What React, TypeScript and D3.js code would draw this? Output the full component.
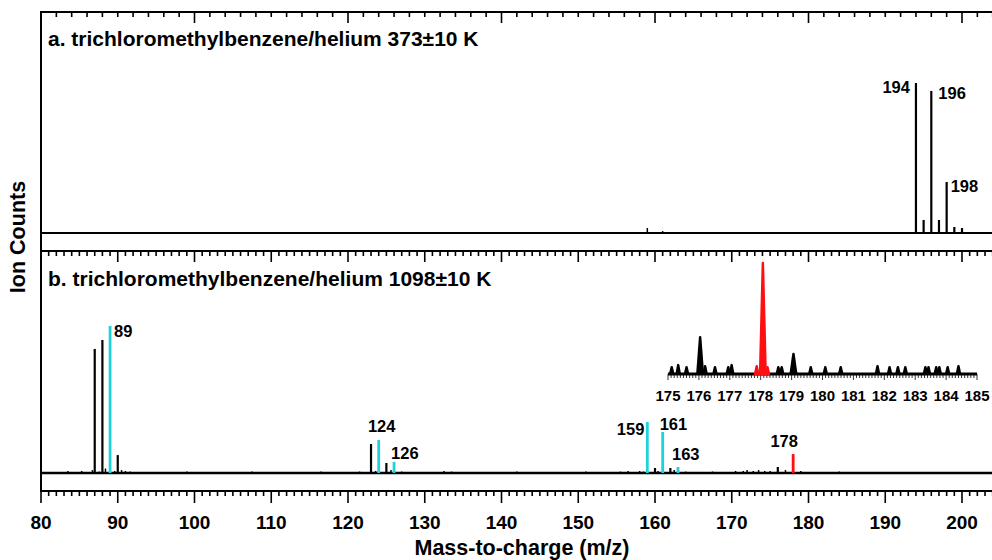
import * as d3 from 'd3';
import React from 'react';

// panel a (373 K): main isotope peaks and small baseline bumps, [m/z, counts]
const topPeaks: [number, number][] = [
  [194, 1000], [195, 87], [196, 947], [197, 87], [198, 340], [199, 40], [200, 33],
];
const topNoise: [number, number][] = [
  [112, 4], [122, 6], [159, 33], [161, 13], [162, 6], [163, 5], [175, 4], [192, 4], [201, 5],
];
const topLabels = [194, 196, 198];

// panel b (1098 K)
const bottomBlack: [number, number][] = [
  [87, 844], [88, 905], [90, 122], [123, 197], [125, 68], [160, 34], [162, 34], [176, 41],
];
const bottomCyan: [number, number][] = [
  [89, 1000], [124, 224], [126, 75], [159, 347], [161, 279], [163, 41],
];
const bottomRed: [number, number][] = [[178, 129]];
const bottomNoise: [number, number][] = [
  [83.5, 14], [84.4, 7], [85.3, 14], [86.2, 7], [86.7, 20], [87.6, 10], [88.4, 30], [89.6, 14],
  [90.5, 20], [91.0, 14], [91.6, 10], [92.4, 7], [94.0, 7], [96.5, 7], [99.0, 10], [101.5, 7],
  [104.0, 7], [107.5, 10], [110.0, 7], [113.0, 7], [116.5, 10], [118.0, 7], [120.0, 7], [121.5, 10],
  [123.6, 14], [125.6, 20], [127.0, 10], [128.5, 7], [130.0, 7], [132.5, 14], [133.5, 10], [136.0, 7],
  [139.0, 7], [142.0, 10], [145.0, 7], [148.0, 7], [151.0, 10], [153.5, 7], [155.5, 10], [156.5, 14],
  [158.0, 14], [158.5, 10], [160.4, 14], [162.5, 20], [164.0, 10], [166.0, 7], [167.5, 10], [169.0, 7],
  [170.5, 14], [171.5, 14], [172.0, 20], [172.8, 14], [173.5, 20], [174.3, 14], [175.0, 14], [177.0, 20],
  [179.0, 14], [180.5, 7], [182.0, 7], [184.0, 10], [186.5, 7], [189.0, 7], [192.0, 7], [195.0, 7],
  [198.0, 7], [201.0, 7],
];
const bottomLabels = [89, 124, 126, 159, 161, 163, 178];

// inset (175-185), relative counts
const insetBlack: [number, number][] = [
  [175.12, 6], [175.33, 8], [175.6, 6], [176.04, 33], [176.2, 7], [176.52, 6], [176.95, 6], [177.06, 8],
  [178.57, 6], [178.68, 6], [179.06, 18], [179.62, 6], [180.09, 6], [180.59, 6], [181.78, 7], [182.17, 6],
  [182.44, 6], [182.68, 6], [183.33, 6], [183.43, 6], [183.68, 6], [183.78, 6], [184.05, 6], [184.4, 7],
];
const insetRed: [number, number][] = [[177.87, 7], [178.07, 100], [178.22, 6]];
const insetTicks = d3.range(175, 185.01, 1);

const CYAN = '#1fd2da';
const RED = '#ff1010';
const FONT = '"Liberation Sans", Arial, sans-serif';

// label placement relative to the peak top (styling only)
const labelPos: Record<number, { dx: number; dy: number; anchor: string }> = {
  194: { dx: -6, dy: 10, anchor: 'end' },
  196: { dx: 7, dy: 8, anchor: 'start' },
  198: { dx: 4, dy: 10, anchor: 'start' },
  89: { dx: 4, dy: 11, anchor: 'start' },
  124: { dx: 3, dy: -8, anchor: 'middle' },
  126: { dx: -3, dy: -3, anchor: 'start' },
  159: { dx: -3, dy: 13, anchor: 'end' },
  161: { dx: -3, dy: -2, anchor: 'start' },
  163: { dx: -6, dy: -7, anchor: 'start' },
  178: { dx: -9, dy: -7, anchor: 'middle' },
};

const App = () => {
  const x = d3.scaleLinear().domain([80, 200]).range([41, 962]);
  const right = x(206);
  const yTop = d3.scaleLinear().domain([0, 1000]).range([233, 83]);
  const yBot = d3.scaleLinear().domain([0, 1000]).range([473, 326]);
  const xi = d3.scaleLinear().domain([175, 185]).range([668, 977]);
  const yi = d3.scaleLinear().domain([0, 100]).range([374, 263]);

  const peakLine = d3.line<[number, number]>().x(d => xi(d[0])).y(d => yi(d[1]));
  const peakShape = (c: number, h: number) => {
    const w = h > 15 ? 0.09 : 0.05;
    return peakLine([[c - w, 0], [c, h], [c + w, 0]]) as string;
  };

  const topTicks = d3.range(80, 207, 2);
  const botTicks = d3.range(80, 207, 1);

  const sticks = (data: [number, number][], y: d3.ScaleLinear<number, number>, color: string, sw: number) =>
    data.map(([m, v], i) => (
      <line key={color + m + '-' + i} x1={x(m)} x2={x(m)} y1={y(0)} y2={y(v)} stroke={color} strokeWidth={sw} />
    ));

  const allTop = [...topPeaks];
  const allBot = [...bottomBlack, ...bottomCyan, ...bottomRed];
  const label = (m: number, data: [number, number][], y: d3.ScaleLinear<number, number>) => {
    const v = (data.find(d => d[0] === m) as [number, number])[1];
    const p = labelPos[m];
    return (
      <text key={'l' + m} x={x(m) + p.dx} y={y(v) + p.dy} textAnchor={p.anchor} fontSize={16.5} fontWeight="bold">
        {m}
      </text>
    );
  };

  return (
    <div style={{ position: 'absolute', left: 0, top: 0 }}>
      <svg width={992} height={560} style={{ display: 'block', fontFamily: FONT }}>
        <rect width={992} height={560} fill="#fff" />

        {/* panel a */}
        <line x1={41} x2={right} y1={12} y2={12} stroke="#000" strokeWidth={2} />
        {topTicks.map(t => (
          <line key={'tt' + t} x1={x(t)} x2={x(t)} y1={12} y2={t % 20 === 0 ? 23 : 17} stroke="#000" strokeWidth={1.6} />
        ))}
        <text x={48} y={46} fontSize={21} fontWeight="bold">a. trichloromethylbenzene/helium 373±10 K</text>
        {sticks(topNoise, yTop, '#000', 1.5)}
        {sticks(topPeaks, yTop, '#000', 2.2)}
        <line x1={41} x2={right} y1={yTop(0)} y2={yTop(0)} stroke="#000" strokeWidth={2.2} />
        {topLabels.map(m => label(m, allTop, yTop))}

        {/* panel b */}
        <line x1={41} x2={right} y1={251} y2={251} stroke="#000" strokeWidth={2} />
        {botTicks.map(t => (
          <line key={'bt' + t} x1={x(t)} x2={x(t)} y1={251} y2={t % 10 === 0 ? 262 : 256} stroke="#000" strokeWidth={1.6} />
        ))}
        <text x={48} y={286} fontSize={21} fontWeight="bold">b. trichloromethylbenzene/helium 1098±10 K</text>
        {sticks(bottomNoise, yBot, '#000', 1.5)}
        {sticks(bottomBlack, yBot, '#000', 2.2)}
        <line x1={41} x2={right} y1={yBot(0)} y2={yBot(0)} stroke="#000" strokeWidth={2.4} />
        {sticks(bottomCyan, yBot, CYAN, 2.8)}
        {sticks(bottomRed, yBot, RED, 2.8)}
        {bottomLabels.map(m => label(m, allBot, yBot))}

        {/* inset */}
        <line x1={xi(175)} x2={xi(185)} y1={yi(0)} y2={yi(0)} stroke="#000" strokeWidth={3} />
        {d3.range(175, 185.001, 0.1).map((t, i) => (
          <line key={'it' + i} x1={xi(t)} x2={xi(t)} y1={yi(0)} y2={yi(0) + (i % 10 === 0 ? 6 : 4)} stroke="#000" strokeWidth={0.8} />
        ))}
        {insetTicks.map(t => (
          <text key={'il' + t} x={xi(t)} y={401} textAnchor="middle" fontSize={15} fontWeight="bold">{t}</text>
        ))}
        {insetBlack.map(([c, h], i) => (
          <path key={'ib' + i} d={peakShape(c, h)} fill="#000" stroke="#000" strokeWidth={2.5} strokeLinejoin="round" />
        ))}
        <line x1={xi(177.78)} x2={xi(178.3)} y1={yi(0)} y2={yi(0)} stroke={RED} strokeWidth={3} />
        {insetRed.map(([c, h], i) => (
          <path key={'ir' + i} d={peakShape(c, h)} fill={RED} stroke={RED} strokeWidth={2.5} strokeLinejoin="round" />
        ))}

        {/* x axis */}
        <line x1={41} x2={right} y1={491} y2={491} stroke="#000" strokeWidth={2} />
        {botTicks.map(t => (
          <line key={'xt' + t} x1={x(t)} x2={x(t)} y1={491} y2={t % 10 === 0 ? 503 : 496} stroke="#000" strokeWidth={1.6} />
        ))}
        {d3.range(80, 201, 10).map(t => (
          <text key={'xl' + t} x={x(t)} y={529} textAnchor="middle" fontSize={19} fontWeight="bold">{t}</text>
        ))}
        <text x={522} y={555} textAnchor="middle" fontSize={21.5} fontWeight="bold">Mass-to-charge (m/z)</text>

        {/* y axis */}
        <line x1={41} x2={41} y1={11} y2={492} stroke="#000" strokeWidth={2} />
        <text transform="translate(25,237) rotate(-90)" textAnchor="middle" fontSize={21.5} fontWeight="bold">Ion Counts</text>
      </svg>
    </div>
  );
};

export default App;
